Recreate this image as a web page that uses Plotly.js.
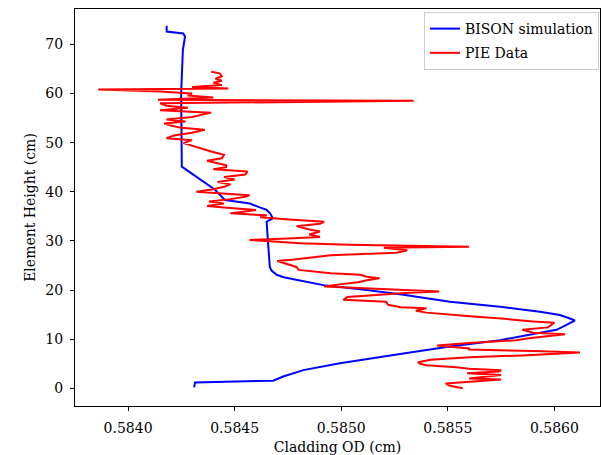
<!DOCTYPE html>
<html>
<head>
<meta charset="utf-8">
<script src="https://cdn.plot.ly/plotly-3.0.1.min.js"></script>
<style>html,body{margin:0;padding:0;background:#fff;}#chart{width:601px;height:455px;}</style>
</head>
<body>
<div id="chart"></div>
<script>
// BISON simulation: cladding OD (cm) vs element height (cm)
const bisonHeight = [0.2, 1.2, 1.55, 1.8, 2.4, 3.7, 5.1, 7.0, 8.5, 9.8, 11.2, 11.9, 12.9, 13.8, 14.2, 14.9, 15.6, 16.6, 17.6, 19.0, 20.0, 21.0, 22.0, 22.3, 22.6, 23.1, 23.5, 24.0, 24.7, 26.0, 30.0, 33.9, 34.6, 35.6, 36.3, 37.3, 37.6, 38.3, 40.4, 45.1, 52.0, 60.0, 68.8, 71.6, 72.2, 72.6, 73.8];
const bisonOD = [0.58431, 0.584314, 0.584681, 0.584697, 0.584728, 0.584822, 0.584994, 0.585276, 0.58551, 0.585745, 0.585932, 0.58601, 0.586057, 0.586096, 0.586073, 0.586026, 0.585932, 0.585745, 0.58551, 0.5853, 0.58512, 0.584916, 0.5848, 0.58476, 0.58473, 0.584697, 0.584685, 0.584672, 0.584665, 0.584662, 0.584656, 0.58465, 0.584679, 0.584666, 0.58465, 0.584588, 0.584572, 0.584455, 0.584408, 0.584252, 0.584249, 0.584249, 0.584257, 0.584267, 0.584259, 0.584181, 0.584181];

// PIE data
const pieHeight = [0.0, 0.5, 1.0, 1.3, 1.8, 2.0, 2.5, 2.7, 3.05, 3.4, 3.7, 4.0, 4.3, 4.7, 5.0, 5.3, 5.8, 6.3, 6.7, 7.1, 7.3, 7.6, 7.9, 8.1, 8.5, 8.7, 9.2, 9.8, 10.2, 10.6, 11.0, 11.3, 11.9, 12.4, 13.0, 13.35, 13.6, 14.0, 14.2, 14.7, 15.4, 15.8, 16.3, 16.5, 17.0, 17.6, 18.0, 18.6, 19.0, 19.4, 19.7, 20.0, 20.3, 20.7, 21.2, 21.6, 22.0, 22.4, 22.7, 23.1, 23.4, 23.8, 24.1, 24.7, 25.3, 25.9, 26.2, 26.5, 27.1, 27.6, 28.1, 28.6, 28.8, 29.2, 29.5, 29.8, 30.2, 30.5, 30.8, 31.3, 31.9, 32.3, 33.0, 33.5, 33.9, 34.4, 34.8, 35.2, 35.6, 36.0, 36.3, 36.8, 37.1, 37.6, 38.0, 38.5, 39.0, 39.3, 39.7, 40.0, 40.5, 41.0, 41.5, 42.0, 42.5, 43.0, 43.5, 44.1, 44.6, 45.0, 45.4, 45.8, 46.3, 46.8, 47.5, 48.2, 48.8, 49.3, 49.9, 50.5, 50.9, 51.5, 52.0, 52.6, 53.0, 53.5, 53.9, 54.3, 54.7, 55.2, 55.7, 56.1, 56.6, 57.1, 57.5, 58.0, 58.5, 58.7, 59.2, 59.6, 60.0, 60.4, 60.8, 61.0, 61.3, 61.7, 62.2, 62.6, 63.0, 63.5, 64.1, 64.4];
const pieOD = [0.58557, 0.58551, 0.58549, 0.58560, 0.58575, 0.58560, 0.58572, 0.58575, 0.58559, 0.58574, 0.58575, 0.58560, 0.58554, 0.58540, 0.58537, 0.58536, 0.58542, 0.58560, 0.58585, 0.58604, 0.58612, 0.58590, 0.58560, 0.58560, 0.58547, 0.58545, 0.58560, 0.58582, 0.58588, 0.58598, 0.58605, 0.58590, 0.58585, 0.58597, 0.58599, 0.58600, 0.58590, 0.58582, 0.58575, 0.58559, 0.58540, 0.58535, 0.58540, 0.58528, 0.58522, 0.58521, 0.58501, 0.58503, 0.58515, 0.58530, 0.58546, 0.58528, 0.58510, 0.58492, 0.58500, 0.58508, 0.58512, 0.58518, 0.58512, 0.58509, 0.58495, 0.58485, 0.58480, 0.58479, 0.58475, 0.58470, 0.58478, 0.58484, 0.58495, 0.58526, 0.58531, 0.58520, 0.58560, 0.58504, 0.58481, 0.58470, 0.58457, 0.58475, 0.58490, 0.58485, 0.58490, 0.58485, 0.58479, 0.58490, 0.58492, 0.58474, 0.58462, 0.58465, 0.58448, 0.58455, 0.58460, 0.58445, 0.58437, 0.58445, 0.58438, 0.58448, 0.58455, 0.58457, 0.58440, 0.58432, 0.58440, 0.58445, 0.58448, 0.58442, 0.58450, 0.58445, 0.58455, 0.58456, 0.58440, 0.58446, 0.58446, 0.58442, 0.58437, 0.58444, 0.58445, 0.58439, 0.58434, 0.58430, 0.58426, 0.58430, 0.58418, 0.58422, 0.58430, 0.58436, 0.58425, 0.58420, 0.58417, 0.58427, 0.58418, 0.58430, 0.58435, 0.58439, 0.58415, 0.58428, 0.58418, 0.58415, 0.58534, 0.58414, 0.58440, 0.58428, 0.58430, 0.58415, 0.58386, 0.58447, 0.58430, 0.58444, 0.58440, 0.58444, 0.58441, 0.58444, 0.58443, 0.58439];

const xTicks = [0.5840, 0.5845, 0.5850, 0.5855, 0.5860];
const xTickText = ['0.5840', '0.5845', '0.5850', '0.5855', '0.5860'];
const yTicks = [0, 10, 20, 30, 40, 50, 60, 70];

const font = {family: 'DejaVu Serif', size: 14, color: '#000'};

const traces = [
  {x: bisonOD, y: bisonHeight, type: 'scatter', mode: 'lines', name: 'BISON simulation',
   legendgroup: 'a', line: {color: '#0000ff', width: 2}},
  {x: pieOD, y: pieHeight, type: 'scatter', mode: 'lines', name: 'PIE Data',
   legendgroup: 'b', line: {color: '#ff0000', width: 2}}
];

const axisCommon = {
  showgrid: false, zeroline: false, showline: true, mirror: true,
  linecolor: '#000', linewidth: 1, ticks: 'outside', ticklen: 4,
  tickcolor: '#000', tickwidth: 1, tickfont: font
};

const layout = {
  width: 601, height: 455,
  margin: {l: 75, r: 1, t: 9, b: 49},
  paper_bgcolor: '#fff', plot_bgcolor: '#fff',
  font: font,
  showlegend: true,
  legend: {x: 0.998, y: 0.9924, xanchor: 'right', yanchor: 'top',
    bgcolor: 'rgba(255,255,255,0.8)', bordercolor: '#cccccc', borderwidth: 1,
    traceorder: 'grouped', tracegroupgap: 3, font: font},
  xaxis: Object.assign({}, axisCommon, {
    range: [0.583751, 0.586214], tickvals: xTicks, ticktext: xTickText,
    ticklabelstandoff: 5,
    title: {text: 'Cladding OD (cm)', font: font, standoff: 8}
  }),
  yaxis: Object.assign({}, axisCommon, {
    range: [-3.6, 77.19], tickvals: yTicks, ticklabelstandoff: 4,
    title: {text: 'Element Height (cm)', font: font, standoff: 6}
  })
};

Plotly.newPlot('chart', traces, layout, {displayModeBar: false, staticPlot: true});
</script>
</body>
</html>
